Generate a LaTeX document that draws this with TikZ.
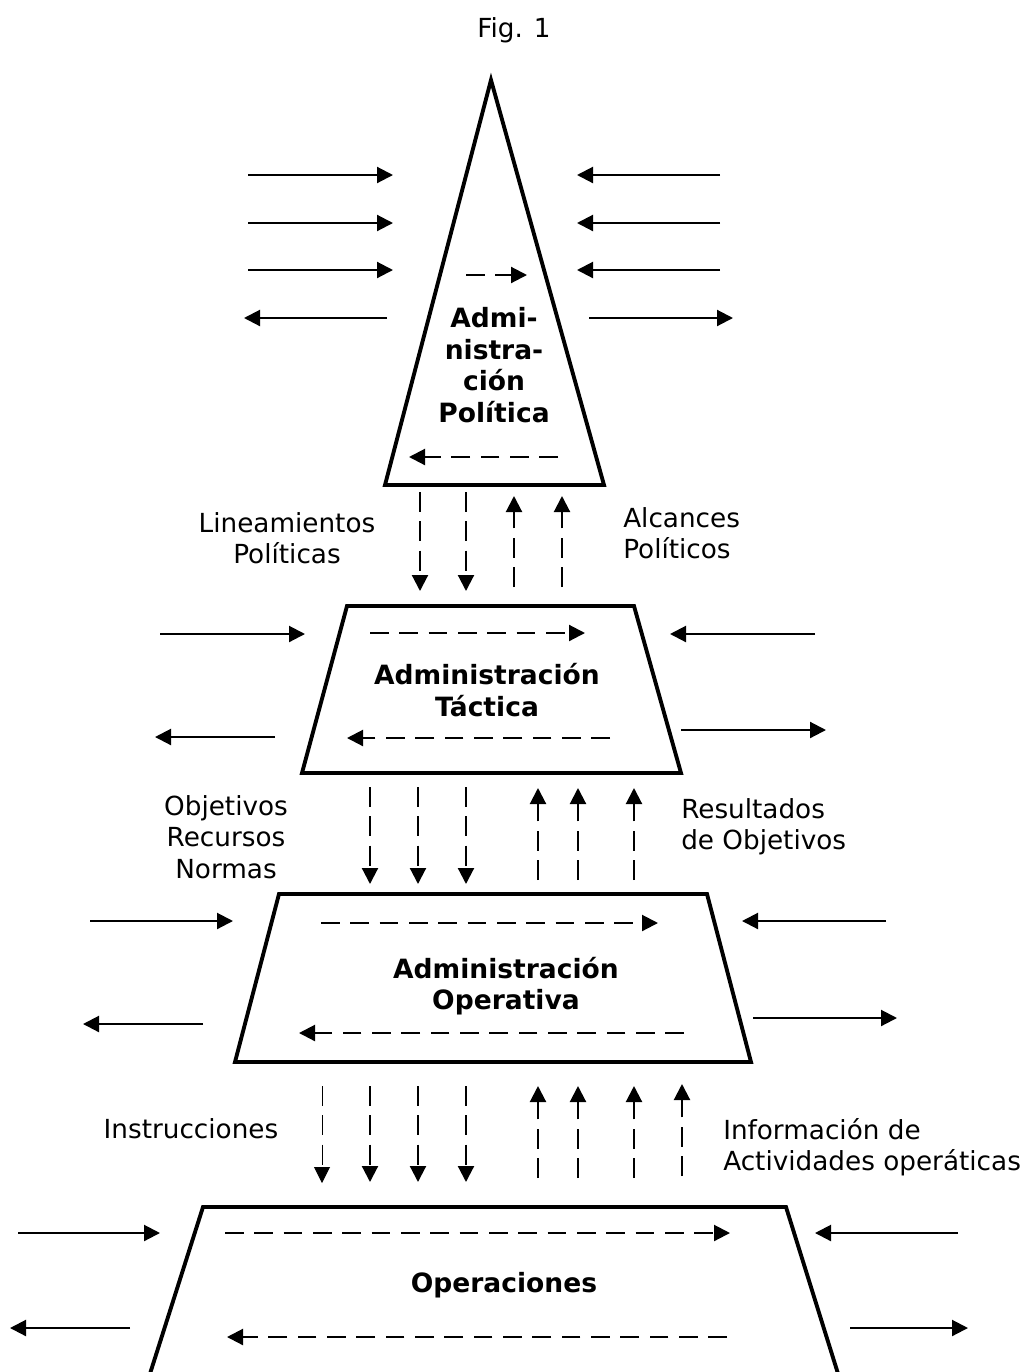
\documentclass[tikz,border=0pt]{standalone}
\usepackage{fontspec}
\setmainfont{DejaVu Sans}
\usetikzlibrary{arrows.meta}
\begin{document}
\begin{tikzpicture}[x=0.75pt,y=-0.75pt,
  levelline/.style={line width=2.9pt,line join=miter},
  flow/.style={line width=1.6pt,-{Triangle[length=12pt,width=12pt]}},
  hdash/.style={flow,dash pattern=on 14pt off 8pt},
  vdash/.style={flow,dash pattern=on 15pt off 7pt},
  thinvdash/.style={vdash,line width=0.7pt},
  note/.style={font=\fontsize{19.7}{23.6}\selectfont,inner sep=0pt},
  title/.style={font=\bfseries\fontsize{19.9}{23.6}\selectfont,align=center,inner sep=0pt}]
\useasboundingbox (0,0) rectangle (1028,1372);

% heading
\node[note] (fig) at (514,30) {Fig. 1};

% outlines of the four levels
\draw[levelline] (491,80) coordinate (pApex) -- (604,485) coordinate (pR)
  -- (385,485) coordinate (pL) -- cycle;
\draw[levelline] (347,606) coordinate (tTL) -- (634,606) coordinate (tTR)
  -- (681,773) coordinate (tBR) -- (302,773) coordinate (tBL) -- cycle;
\draw[levelline] (279,894) coordinate (oTL) -- (707,894) coordinate (oTR)
  -- (751,1062) coordinate (oBR) -- (235,1062) coordinate (oBL) -- cycle;
\draw[levelline] (148,1380) coordinate (xBL) -- (203,1207) coordinate (xTL)
  -- (786,1207) coordinate (xTR) -- (840,1380) coordinate (xBR);

% level titles
\node[title] (pTxt) at (494,365) {Admi-\\nistra-\\ción\\Política};
\node[title] (tTxt) at (487,690) {Administración\\Táctica};
\node[title] (oTxt) at (506,986) {Administración\\Operativa};
\node[title] (xTxt) at (504,1285) {Operaciones};

% flow labels
\node[note,align=center] (lin) at (287,538) {Lineamientos\\Políticas};
\node[note,align=left,anchor=west] (alc) at (623,533) {Alcances\\Políticos};
\node[note,align=center] (obj) at (226,837) {Objetivos\\Recursos\\Normas};
\node[note,align=left,anchor=west] (res) at (681,827) {Resultados\\de Objetivos};
\node[note] (ins) at (191,1129) {Instrucciones};
\node[note,align=left,anchor=west] (inf) at (723,1147) {Información de\\Actividades operáticas};

% exchanges with the surroundings
\foreach \xa/\xb/\yy [count=\k] in {
  248/393/175, 248/393/223, 248/393/270, 387/244/318,
  720/577/175, 720/577/223, 720/577/270, 589/733/318,
  160/305/634, 275/155/737, 815/670/634, 681/826/730,
  90/233/921, 203/83/1024, 886/742/921, 753/897/1018,
  18/160/1233, 130/10/1328, 958/815/1233, 850/968/1328}
{
  \coordinate (side\k a) at (\xa,\yy);
  \coordinate (side\k b) at (\xb,\yy);
  \draw[flow] (side\k a) -- (side\k b);
}

% internal flows inside each level
\foreach \xa/\xb/\yy [count=\k] in {
  466/527/275, 558/409/457, 370/585/633, 610/347/738,
  321/658/923, 684/299/1033, 225/730/1233, 727/227/1337}
{
  \coordinate (in\k a) at (\xa,\yy);
  \coordinate (in\k b) at (\xb,\yy);
  \draw[hdash] (in\k a) -- (in\k b);
}

% downward flows between levels
\foreach \xx/\ya/\yb [count=\k] in {
  420/492/591, 466/492/591,
  370/787/884, 418/787/884, 466/787/884,
  370/1086/1182, 418/1086/1182, 466/1086/1182}
{
  \coordinate (dn\k a) at (\xx,\ya);
  \coordinate (dn\k b) at (\xx,\yb);
  \draw[vdash] (dn\k a) -- (dn\k b);
}
\coordinate (dn0a) at (322,1086);
\coordinate (dn0b) at (322,1183);
\draw[thinvdash] (dn0a) -- (dn0b);

% upward flows between levels
\foreach \xx/\ya/\yb [count=\k] in {
  514/587/496, 562/587/496,
  538/880/788, 578/880/788, 634/880/788,
  538/1178/1086, 578/1178/1086, 634/1178/1086, 682/1176/1084}
{
  \coordinate (up\k a) at (\xx,\ya);
  \coordinate (up\k b) at (\xx,\yb);
  \draw[vdash] (up\k a) -- (up\k b);
}
\end{tikzpicture}
\end{document}
